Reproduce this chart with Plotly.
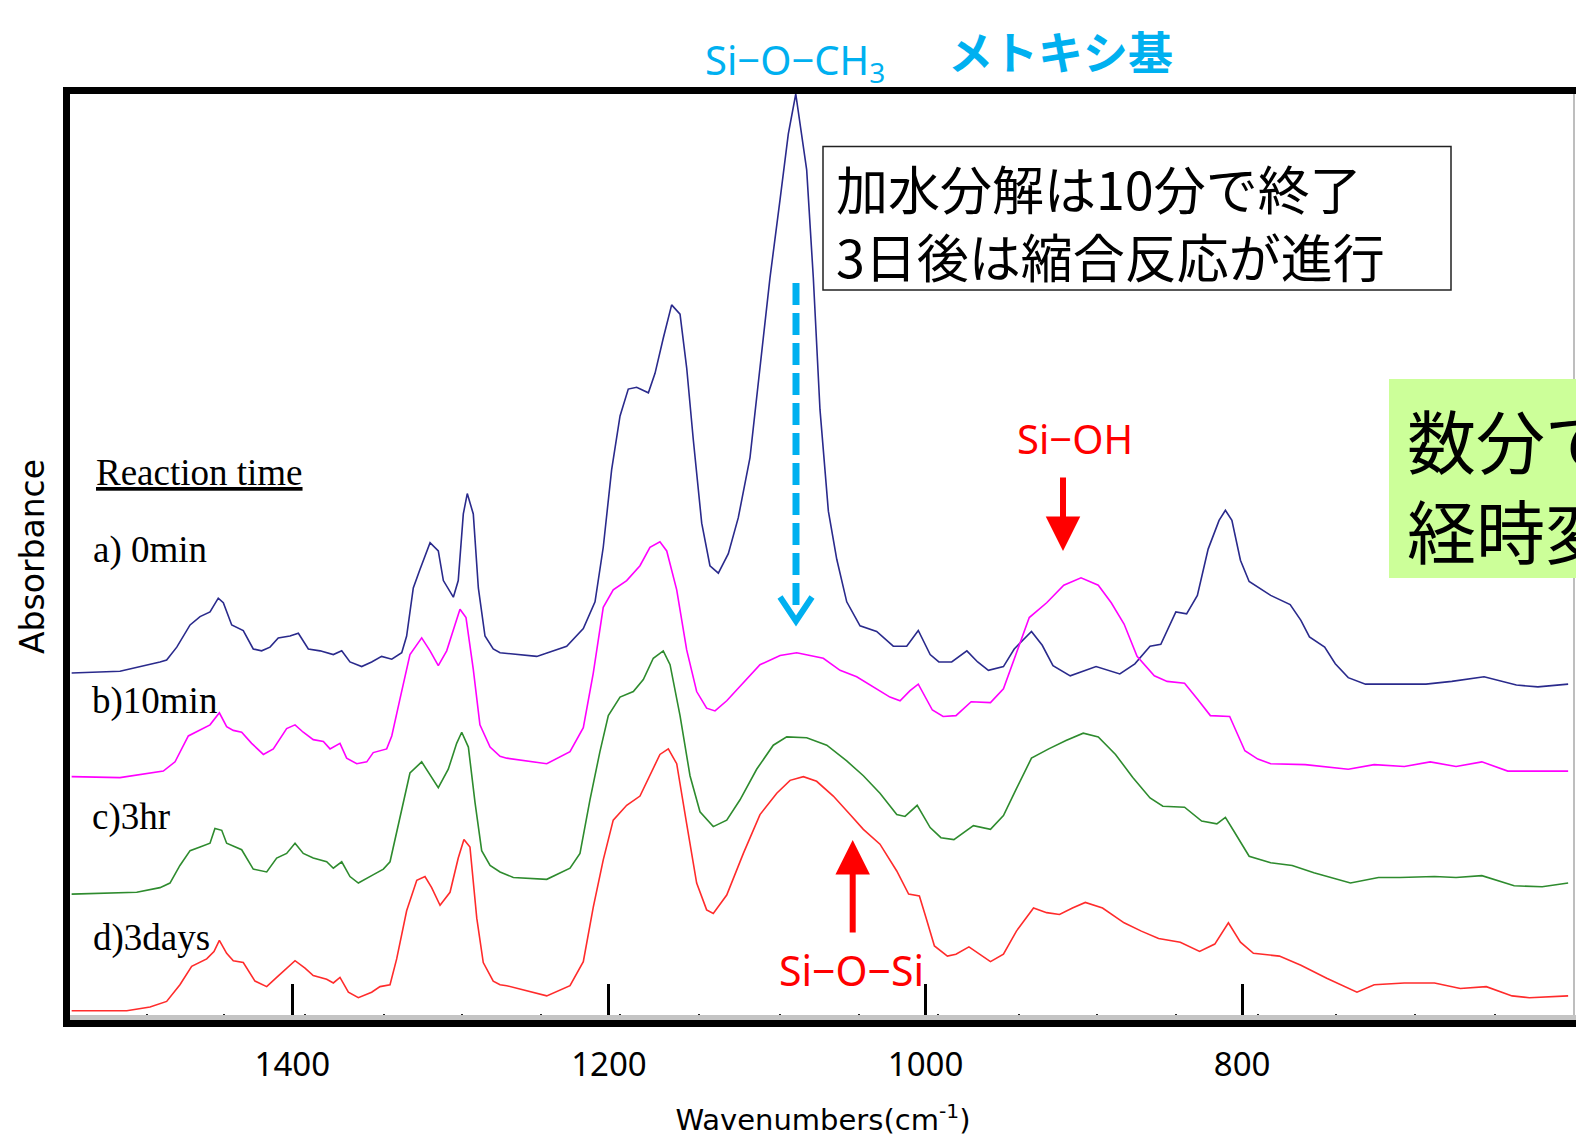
import plotly.graph_objects as go

# ---------------- data ----------------
wn_a = [1539.4,1508.9,1483.6,1479.4,1473.0,1464.6,1458.3,1452.0,1446.8,1443.6,1438.3,1431.0,1424.7,1419.4,1414.1,1408.9,1401.5,1396.2,1389.9,1382.5,1374.1,1368.8,1363.6,1356.2,1349.9,1343.6,1337.2,1330.9,1327.8,1323.6,1319.4,1313.0,1307.8,1304.6,1298.3,1295.2,1292.0,1289.5,1285.7,1282.5,1278.3,1273.1,1268.8,1245.6,1226.7,1216.2,1208.8,1203.6,1198.3,1193.0,1187.8,1182.5,1175.1,1170.9,1165.7,1160.4,1155.1,1150.9,1146.7,1141.4,1136.2,1130.9,1124.6,1118.3,1110.9,1104.6,1098.3,1091.9,1086.7,1082.0,1075.1,1070.9,1066.7,1061.4,1056.1,1049.8,1041.4,1030.9,1020.4,1011.9,1004.6,997.1,991.6,983.5,973.9,967.1,960.3,950.8,944.0,933.1,926.3,919.5,908.6,892.3,877.3,867.8,858.2,851.4,841.9,835.1,828.3,821.5,814.6,810.6,806.5,801.1,795.6,782.0,769.7,762.9,757.5,747.9,741.2,733.0,722.1,683.9,667.6,647.2,626.8,613.2,594.1]
abs_a = [0.374,0.376,0.386,0.388,0.402,0.426,0.435,0.440,0.455,0.450,0.426,0.420,0.400,0.398,0.402,0.412,0.414,0.417,0.400,0.398,0.394,0.398,0.386,0.381,0.386,0.392,0.389,0.396,0.414,0.466,0.486,0.515,0.506,0.474,0.456,0.474,0.546,0.568,0.546,0.466,0.414,0.400,0.396,0.392,0.403,0.422,0.451,0.510,0.594,0.652,0.681,0.683,0.677,0.698,0.736,0.772,0.762,0.704,0.626,0.536,0.490,0.482,0.503,0.542,0.607,0.704,0.801,0.886,0.957,1.000,0.918,0.801,0.659,0.549,0.497,0.451,0.425,0.419,0.403,0.403,0.420,0.394,0.386,0.386,0.398,0.386,0.377,0.381,0.400,0.419,0.404,0.382,0.371,0.381,0.373,0.384,0.403,0.405,0.440,0.438,0.458,0.508,0.539,0.550,0.539,0.496,0.473,0.458,0.448,0.431,0.413,0.402,0.384,0.369,0.362,0.362,0.365,0.370,0.361,0.359,0.362]

wn_b = [1539.4,1508.9,1481.5,1474.1,1465.7,1458.3,1452.0,1446.1,1441.5,1437.3,1432.0,1425.7,1418.3,1412.0,1403.6,1398.3,1393.1,1386.8,1380.4,1376.2,1369.9,1365.7,1359.3,1353.0,1348.9,1340.4,1337.2,1332.0,1325.7,1318.3,1313.0,1307.8,1302.5,1297.3,1294.1,1290.3,1285.7,1281.5,1275.1,1268.8,1264.6,1239.3,1224.6,1216.2,1209.9,1203.6,1197.3,1188.8,1180.4,1174.1,1167.8,1163.5,1157.2,1150.9,1144.6,1138.3,1133.0,1125.6,1115.1,1104.6,1091.9,1081.4,1064.6,1054.0,1043.5,1030.9,1022.5,1016.1,1009.8,1004.6,995.7,988.9,980.8,971.2,959.0,950.8,942.6,934.5,923.5,912.7,901.8,890.9,882.7,874.6,866.4,855.5,847.4,836.4,828.3,820.1,807.9,803.8,798.3,790.1,782.0,760.2,733.0,716.6,697.6,681.2,664.9,648.6,632.2,613.2,594.1]
abs_b = [0.262,0.261,0.268,0.278,0.306,0.312,0.318,0.331,0.316,0.312,0.310,0.298,0.286,0.292,0.314,0.318,0.310,0.302,0.300,0.292,0.298,0.282,0.276,0.278,0.288,0.292,0.306,0.346,0.394,0.412,0.398,0.382,0.398,0.426,0.443,0.434,0.378,0.318,0.294,0.284,0.282,0.276,0.289,0.315,0.374,0.445,0.464,0.474,0.490,0.510,0.516,0.506,0.464,0.399,0.354,0.336,0.333,0.344,0.364,0.383,0.393,0.396,0.390,0.377,0.370,0.357,0.348,0.344,0.355,0.362,0.334,0.327,0.328,0.343,0.342,0.357,0.396,0.434,0.450,0.469,0.477,0.469,0.450,0.427,0.392,0.371,0.365,0.363,0.346,0.328,0.327,0.311,0.290,0.281,0.276,0.275,0.270,0.275,0.273,0.278,0.273,0.278,0.268,0.268,0.268]

wn_c = [1539.4,1498.3,1483.6,1477.3,1471.0,1464.6,1458.3,1452.0,1448.9,1444.6,1441.5,1432.0,1424.7,1416.2,1409.9,1403.6,1398.3,1393.1,1386.8,1378.3,1374.1,1368.8,1363.6,1358.3,1349.9,1342.5,1338.3,1332.0,1325.7,1318.3,1313.0,1307.8,1301.5,1296.2,1293.0,1288.8,1284.6,1280.4,1275.1,1268.8,1260.4,1239.3,1224.6,1218.3,1212.0,1205.7,1200.4,1193.0,1184.6,1178.3,1172.0,1165.7,1161.4,1155.1,1148.8,1142.5,1134.1,1125.6,1117.2,1106.7,1096.2,1087.7,1075.1,1062.4,1049.8,1039.3,1028.8,1018.2,1013.0,1007.7,1005.3,997.1,990.3,982.1,969.8,959.0,950.8,942.6,933.1,922.2,911.3,900.4,890.9,880.0,869.1,858.2,850.1,836.4,825.6,816.0,810.6,805.2,795.6,782.0,768.4,754.7,743.9,731.6,713.9,700.3,678.5,664.9,648.6,628.2,610.5,594.1]
abs_c = [0.135,0.137,0.142,0.147,0.166,0.182,0.186,0.190,0.206,0.204,0.190,0.183,0.162,0.159,0.174,0.179,0.190,0.179,0.174,0.170,0.163,0.170,0.154,0.147,0.155,0.162,0.170,0.218,0.266,0.278,0.264,0.250,0.270,0.298,0.310,0.294,0.234,0.182,0.166,0.159,0.153,0.151,0.163,0.179,0.237,0.289,0.328,0.348,0.354,0.367,0.390,0.398,0.383,0.328,0.263,0.224,0.208,0.215,0.237,0.270,0.296,0.305,0.304,0.296,0.279,0.263,0.244,0.221,0.219,0.228,0.231,0.207,0.196,0.194,0.209,0.205,0.220,0.249,0.282,0.292,0.301,0.309,0.305,0.286,0.261,0.239,0.230,0.229,0.214,0.211,0.218,0.203,0.176,0.169,0.166,0.158,0.153,0.147,0.153,0.153,0.154,0.153,0.155,0.144,0.143,0.147]

wn_d = [1539.4,1504.6,1489.9,1479.4,1471.0,1463.6,1454.1,1449.5,1446.1,1441.5,1437.3,1431.0,1423.6,1416.2,1409.9,1403.6,1398.3,1392.0,1386.8,1378.3,1374.1,1369.9,1364.6,1358.3,1349.9,1344.6,1338.3,1334.1,1327.8,1321.4,1316.2,1312.0,1306.7,1300.4,1295.2,1291.6,1287.8,1283.5,1279.4,1273.1,1268.8,1264.6,1239.3,1224.6,1216.2,1209.9,1203.6,1197.3,1188.8,1180.4,1174.1,1167.8,1162.5,1157.2,1150.9,1144.6,1138.3,1134.1,1125.6,1115.1,1104.6,1094.0,1085.6,1077.2,1068.8,1058.3,1047.7,1039.3,1028.8,1018.2,1010.7,1003.9,999.8,994.4,986.2,980.8,972.6,965.8,959.0,950.8,942.6,931.8,923.5,915.4,907.2,899.1,888.2,874.6,863.7,852.8,839.1,826.9,817.3,808.7,801.1,792.9,776.5,762.9,746.6,727.5,716.6,697.6,678.5,662.2,645.8,629.5,618.6,594.1]
abs_d = [0.009,0.009,0.013,0.019,0.037,0.057,0.065,0.073,0.085,0.071,0.063,0.061,0.041,0.035,0.045,0.055,0.063,0.055,0.047,0.043,0.039,0.045,0.029,0.023,0.029,0.035,0.037,0.065,0.117,0.150,0.154,0.142,0.123,0.137,0.174,0.194,0.186,0.109,0.061,0.041,0.037,0.036,0.025,0.036,0.062,0.121,0.172,0.215,0.231,0.241,0.263,0.286,0.292,0.276,0.211,0.147,0.118,0.114,0.134,0.179,0.221,0.244,0.258,0.262,0.257,0.241,0.221,0.205,0.189,0.160,0.135,0.133,0.110,0.079,0.068,0.070,0.078,0.070,0.062,0.070,0.095,0.120,0.115,0.113,0.120,0.126,0.120,0.104,0.095,0.087,0.083,0.073,0.081,0.104,0.083,0.071,0.068,0.058,0.044,0.029,0.037,0.039,0.039,0.033,0.035,0.025,0.023,0.025]

series_labels = ["a) 0min", "b)10min", "c)3hr", "d)3days"]
major_ticks = [1400, 1200, 1000, 800]
minor_ticks = [1492, 1443, 1392, 1342, 1293, 1243, 1193, 1143, 1092, 1042, 992, 941, 892, 842, 790, 741, 691, 640]

# ---------------- layout geometry (figure pixels) ----------------
W, H = 1576, 1138
PL, PR, PT, PB = 70, 1576, 94, 1019   # plot area edges


def fx(px):
    return (px - PL) / (PR - PL)


def fy(py):
    return (PB - py) / (PB - PT)


colors = ["#2A2A8C", "#FF00FF", "#2E8B2E", "#FF2B2B"]
fig = go.Figure()
for wn, ab, col, name in zip([wn_a, wn_b, wn_c, wn_d], [abs_a, abs_b, abs_c, abs_d], colors, series_labels):
    fig.add_trace(go.Scatter(x=wn, y=ab, mode="lines", name=name,
                             line=dict(color=col, width=1.6), hoverinfo="skip"))

SANS = "Noto Sans, Open Sans, sans-serif"
WIDE = "DejaVu Sans, Noto Sans, sans-serif"
CJK = "Noto Sans CJK JP, sans-serif"
SERIF = "Liberation Serif, Times New Roman, serif"
CYAN = "#00B0F0"
RED = "#FF0000"

fig.update_layout(
    width=W, height=H, showlegend=False,
    margin=dict(l=PL, r=W - PR, t=PT, b=H - PB, pad=0),
    paper_bgcolor="white", plot_bgcolor="white",
    xaxis=dict(range=[1540.45, 589.13], tickmode="array", tickvals=major_ticks,
               ticks="inside", ticklen=35, tickwidth=2.5, tickcolor="black",
               showgrid=False, zeroline=False, showline=False,
               tickfont=dict(family=SANS, size=33, color="black"),
               ticklabelstandoff=23,
               minor=dict(tickmode="array", tickvals=minor_ticks, ticks="inside",
                          ticklen=5, tickwidth=2, tickcolor="#222", showgrid=False),
               title=dict(text="Wavenumbers(cm<sup>-1</sup>)",
                          font=dict(family=WIDE, size=29, color="black"), standoff=24)),
    yaxis=dict(range=[0, 1], showticklabels=False, ticks="", showgrid=False,
               zeroline=False, showline=False,
               title=dict(text="Absorbance", font=dict(family=WIDE, size=33, color="black"),
                          standoff=14)),
)

shapes = []
# gray inner band above bottom axis, thick black frame
shapes.append(dict(type="rect", xref="paper", yref="paper", x0=fx(63), x1=1.01, y0=fy(1020), y1=fy(1015),
                   fillcolor="#C4C4C4", line=dict(width=0), layer="above"))
shapes.append(dict(type="rect", xref="paper", yref="paper", x0=fx(63), x1=1.01, y0=fy(1027), y1=fy(1020),
                   fillcolor="black", line=dict(width=0), layer="above"))
shapes.append(dict(type="rect", xref="paper", yref="paper", x0=fx(63), x1=1.01, y0=fy(94), y1=fy(87),
                   fillcolor="black", line=dict(width=0), layer="above"))
shapes.append(dict(type="rect", xref="paper", yref="paper", x0=fx(63), x1=fx(70), y0=fy(1027), y1=fy(87),
                   fillcolor="black", line=dict(width=0), layer="above"))
# faint right border
shapes.append(dict(type="line", xref="paper", yref="paper", x0=fx(1574), x1=fx(1574), y0=fy(1015), y1=fy(94),
                   line=dict(color="#A8A8A8", width=1.5), layer="above"))
# green box (cut at the right edge)
shapes.append(dict(type="rect", xref="paper", yref="paper", x0=fx(1389), x1=1.02, y0=fy(578), y1=fy(379),
                   fillcolor="#CCFF99", line=dict(width=0), layer="above"))
# text box
shapes.append(dict(type="rect", xref="paper", yref="paper", x0=fx(823), x1=fx(1451), y0=fy(290), y1=fy(146.5),
                   fillcolor="white", line=dict(color="#222", width=1.5), layer="above"))
# cyan dashed arrow
shapes.append(dict(type="line", xref="paper", yref="paper", x0=fx(796), x1=fx(796), y0=fy(283), y1=fy(608),
                   line=dict(color=CYAN, width=7, dash="22px,8px"), layer="above"))
shapes.append(dict(type="path", xref="paper", yref="paper",
                   path=f"M {fx(780)} {fy(597)} L {fx(796)} {fy(621)} L {fx(812)} {fy(597)}",
                   line=dict(color=CYAN, width=6), layer="above"))
fig.update_layout(shapes=shapes)

ann = []
ann.append(dict(text="Si−O−CH<sub>3</sub>", x=fx(795), y=fy(62), xanchor="center", yanchor="middle",
                font=dict(family=SANS, size=40, color=CYAN)))
ann.append(dict(text="<b>メトキシ基</b>", x=fx(1060), y=fy(50), xanchor="center", yanchor="middle",
                font=dict(family=CJK, size=45, color=CYAN)))
ann.append(dict(text="加水分解は10分で終了<br>3日後は縮合反応が進行", x=fx(834), y=fy(221.3),
                xanchor="left", yanchor="middle", align="left",
                font=dict(family=CJK, size=52, color="black")))
ann.append(dict(text="<u>Reaction time</u>", x=fx(94), y=fy(472.8), xanchor="left", yanchor="middle",
                font=dict(family=SERIF, size=37, color="black")))
for lab, py, px in zip(series_labels, [549.6, 700.5, 817, 938], [91, 90, 90, 91]):
    ann.append(dict(text=lab, x=fx(px), y=fy(py), xanchor="left", yanchor="middle",
                    font=dict(family=SERIF, size=37, color="black")))
ann.append(dict(text="Si−OH", x=fx(1074.5), y=fy(439), xanchor="center", yanchor="middle",
                font=dict(family=SANS, size=40, color=RED)))
ann.append(dict(text="Si−O−Si", x=fx(851.4), y=fy(970), xanchor="center", yanchor="middle",
                font=dict(family=SANS, size=41, color=RED)))
# red arrows
ann.append(dict(text="", x=fx(1063), y=fy(551), ax=0, ay=-75, showarrow=True, arrowhead=2,
                arrowsize=1.15, arrowwidth=6, arrowcolor=RED, standoff=0))
ann.append(dict(text="", x=fx(852.7), y=fy(840), ax=0, ay=94, showarrow=True, arrowhead=2,
                arrowsize=1.15, arrowwidth=6, arrowcolor=RED, standoff=0))
# green box text (cut by the right edge, as in the reference)
ann.append(dict(text="数分で加水分解<br>経時変化", x=fx(1405), y=fy(483.5), xanchor="left", yanchor="middle",
                align="left", font=dict(family=CJK, size=69, color="black")))
for a in ann:
    a.setdefault("showarrow", False)
    a["xref"] = "paper"
    a["yref"] = "paper"
fig.update_layout(annotations=ann)

fig.write_html("out.html")
